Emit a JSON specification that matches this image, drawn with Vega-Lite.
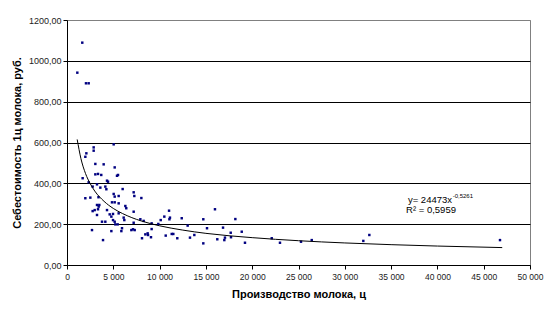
{
  "$schema": "https://vega.github.io/schema/vega-lite/v6.json",
  "width": 463,
  "height": 245,
  "autosize": {"type": "none"},
  "padding": {"left": 67, "top": 20, "right": 20, "bottom": 50},
  "background": "white",
  "config": {
    "font": "Liberation Sans",
    "view": {"stroke": "#808080", "strokeWidth": 1}
  },
  "datasets": {
    "pts": [
      {"x": 1650, "y": 1089}, {"x": 1115, "y": 942}, {"x": 2050, "y": 890}, {"x": 2340, "y": 890},
      {"x": 2880, "y": 576}, {"x": 2880, "y": 560}, {"x": 5040, "y": 591}, {"x": 2090, "y": 547},
      {"x": 1980, "y": 530}, {"x": 3060, "y": 495}, {"x": 3960, "y": 493}, {"x": 5150, "y": 478},
      {"x": 3060, "y": 444}, {"x": 3350, "y": 446}, {"x": 3700, "y": 441}, {"x": 5400, "y": 437},
      {"x": 5510, "y": 441}, {"x": 1690, "y": 425}, {"x": 2340, "y": 405}, {"x": 4320, "y": 413},
      {"x": 4430, "y": 408}, {"x": 3240, "y": 395}, {"x": 2770, "y": 384}, {"x": 4140, "y": 384},
      {"x": 4250, "y": 371}, {"x": 3600, "y": 379}, {"x": 6010, "y": 372}, {"x": 1980, "y": 327},
      {"x": 2520, "y": 330}, {"x": 3400, "y": 332}, {"x": 5040, "y": 348}, {"x": 5150, "y": 335},
      {"x": 5580, "y": 338}, {"x": 7200, "y": 356}, {"x": 7270, "y": 338}, {"x": 8030, "y": 328},
      {"x": 4860, "y": 307}, {"x": 5150, "y": 307}, {"x": 5580, "y": 302}, {"x": 3240, "y": 294},
      {"x": 3490, "y": 294}, {"x": 3420, "y": 286}, {"x": 2990, "y": 269}, {"x": 3350, "y": 273},
      {"x": 2770, "y": 264}, {"x": 6300, "y": 289}, {"x": 6400, "y": 278}, {"x": 7200, "y": 261},
      {"x": 4320, "y": 269}, {"x": 4610, "y": 248}, {"x": 4970, "y": 250}, {"x": 4790, "y": 237},
      {"x": 3240, "y": 245}, {"x": 5580, "y": 253}, {"x": 6120, "y": 232}, {"x": 6190, "y": 220},
      {"x": 4970, "y": 220}, {"x": 5150, "y": 212}, {"x": 3780, "y": 212}, {"x": 4140, "y": 212},
      {"x": 5220, "y": 199}, {"x": 5470, "y": 199}, {"x": 5940, "y": 180}, {"x": 7200, "y": 207},
      {"x": 7920, "y": 224}, {"x": 8280, "y": 216}, {"x": 7310, "y": 171}, {"x": 2700, "y": 171},
      {"x": 3890, "y": 122}, {"x": 4790, "y": 166}, {"x": 5870, "y": 166}, {"x": 6950, "y": 171},
      {"x": 7130, "y": 175}, {"x": 8100, "y": 131}, {"x": 8460, "y": 150}, {"x": 8750, "y": 147},
      {"x": 11020, "y": 266}, {"x": 15980, "y": 273}, {"x": 14720, "y": 224}, {"x": 12390, "y": 229},
      {"x": 10510, "y": 237}, {"x": 11120, "y": 232}, {"x": 11060, "y": 224}, {"x": 10120, "y": 220},
      {"x": 9140, "y": 204}, {"x": 9140, "y": 176}, {"x": 9860, "y": 201}, {"x": 13030, "y": 193},
      {"x": 15120, "y": 180}, {"x": 16850, "y": 183}, {"x": 8710, "y": 155}, {"x": 9070, "y": 136},
      {"x": 10660, "y": 144}, {"x": 11310, "y": 152}, {"x": 11480, "y": 152}, {"x": 11910, "y": 131},
      {"x": 13280, "y": 134}, {"x": 13750, "y": 147}, {"x": 14720, "y": 106}, {"x": 16230, "y": 126},
      {"x": 17060, "y": 134}, {"x": 16990, "y": 122}, {"x": 17680, "y": 158}, {"x": 17710, "y": 136},
      {"x": 18180, "y": 225}, {"x": 18870, "y": 163}, {"x": 19220, "y": 109}, {"x": 22110, "y": 131},
      {"x": 23000, "y": 109}, {"x": 25270, "y": 114}, {"x": 26430, "y": 122}, {"x": 32000, "y": 118},
      {"x": 32650, "y": 147}, {"x": 46760, "y": 122}
    ],
    "trend": [
      {"x": 1100, "y": 615}, {"x": 1500, "y": 522}, {"x": 2000, "y": 448}, {"x": 2500, "y": 399},
      {"x": 3000, "y": 362}, {"x": 4000, "y": 312}, {"x": 5000, "y": 277}, {"x": 6000, "y": 252},
      {"x": 7000, "y": 232}, {"x": 8000, "y": 216}, {"x": 10000, "y": 192}, {"x": 12500, "y": 171},
      {"x": 15000, "y": 155}, {"x": 20000, "y": 134}, {"x": 25000, "y": 119}, {"x": 30000, "y": 108},
      {"x": 35000, "y": 99.6}, {"x": 40000, "y": 92.8}, {"x": 47000, "y": 85.3}
    ],
    "labels": [
      {"x": 41580, "y": 318, "t": "y= 24473x", "k": "main"},
      {"x": 39310, "y": 269, "t": "R² = 0,5959", "k": "main2"},
      {"x": 41650, "y": 336, "t": "-0,5261", "k": "sup"}
    ]
  },
  "layer": [
    {
      "data": {"name": "pts"},
      "mark": {"type": "square", "size": 6, "color": "#000080", "opacity": 1},
      "encoding": {
        "x": {
          "field": "x", "type": "quantitative",
          "scale": {"domain": [0, 50000], "nice": false},
          "axis": {
            "values": [0, 5000, 10000, 15000, 20000, 25000, 30000, 35000, 40000, 45000, 50000],
            "labelExpr": "replace(format(datum.value, ',d'), ',', ' ')",
            "grid": false,
            "domainColor": "black",
            "tickColor": "black",
            "tickSize": 4,
            "labelFontSize": 8.5,
            "labelColor": "#222",
            "labelPadding": 3,
            "labelFlush": false,
            "title": "Производство молока, ц",
            "titleFontSize": 11,
            "titleFontWeight": "bold",
            "titleColor": "black",
            "titlePadding": 8
          }
        },
        "y": {
          "field": "y", "type": "quantitative",
          "scale": {"domain": [0, 1200], "nice": false},
          "axis": {
            "values": [0, 200, 400, 600, 800, 1000, 1200],
            "labelExpr": "replace(format(datum.value, '.2f'), '.', ',')",
            "grid": true,
            "gridColor": {"condition": {"test": "datum.value == 1200", "value": "#808080"}, "value": "black"},
            "gridOpacity": 1,
            "domainColor": "black",
            "tickColor": "black",
            "tickSize": 4,
            "labelFontSize": 9,
            "labelColor": "#222",
            "labelPadding": 2,
            "title": "Себестоимость 1ц молока, руб.",
            "titleFontSize": 11,
            "titleFontWeight": "bold",
            "titleColor": "black",
            "titlePadding": 6
          }
        }
      }
    },
    {
      "data": {"name": "trend"},
      "mark": {"type": "line", "color": "black", "strokeWidth": 1, "interpolate": "monotone"},
      "encoding": {
        "x": {"field": "x", "type": "quantitative"},
        "y": {"field": "y", "type": "quantitative"}
      }
    },
    {
      "data": {"name": "labels"},
      "transform": [{"filter": "datum.k == 'main'"}],
      "mark": {"type": "text", "align": "right", "baseline": "middle", "fontSize": 9.5, "color": "black"},
      "encoding": {
        "x": {"field": "x", "type": "quantitative"},
        "y": {"field": "y", "type": "quantitative"},
        "text": {"field": "t"}
      }
    },
    {
      "data": {"name": "labels"},
      "transform": [{"filter": "datum.k == 'main2'"}],
      "mark": {"type": "text", "align": "center", "baseline": "middle", "fontSize": 9.5, "color": "black"},
      "encoding": {
        "x": {"field": "x", "type": "quantitative"},
        "y": {"field": "y", "type": "quantitative"},
        "text": {"field": "t"}
      }
    },
    {
      "data": {"name": "labels"},
      "transform": [{"filter": "datum.k == 'sup'"}],
      "mark": {"type": "text", "align": "left", "baseline": "middle", "fontSize": 6, "color": "black"},
      "encoding": {
        "x": {"field": "x", "type": "quantitative"},
        "y": {"field": "y", "type": "quantitative"},
        "text": {"field": "t"}
      }
    }
  ]
}
